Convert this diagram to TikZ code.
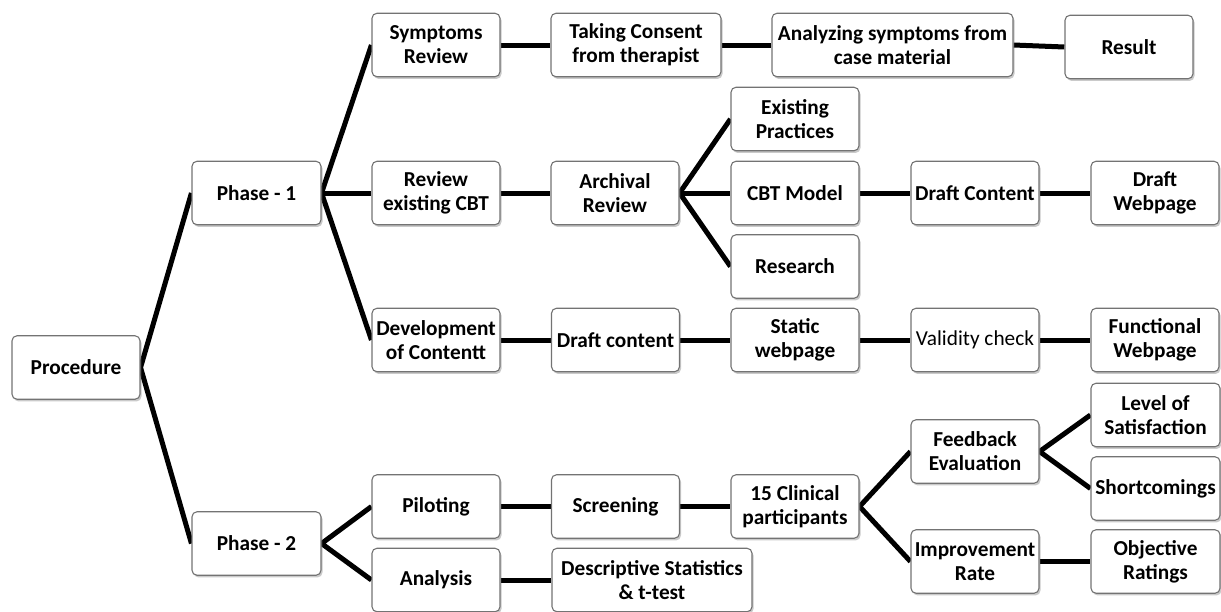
\documentclass[tikz,border=0pt]{standalone}
\usepackage{fontspec}
\setmainfont{Carlito}
\usetikzlibrary{shadows}
\pgfdeclarelayer{bg}
\pgfsetlayers{bg,main}
\begin{document}
\begin{tikzpicture}[x=1pt,y=-1pt,
  box/.style={draw=black!55, line width=1.1pt, rounded corners=5pt, fill=white,
    minimum width=#1, minimum height=63.5pt, inner sep=0pt, align=center,
    font=\fontsize{21.3}{24}\selectfont\bfseries,
    drop shadow={shadow xshift=1.5pt, shadow yshift=-2.2pt, opacity=0.35, fill=black!60}},
  box/.default=128pt,
  link/.style={line width=5pt, line join=miter, black}]
\useasboundingbox (0,0) rectangle (1221,611);

% root and phases
\node[box] (proc) at (76,367.5) {Procedure};
\node[box=129pt] (ph1) at (256.5,193) {Phase - 1};
\node[box=129pt] (ph2) at (256.5,543.5) {Phase - 2};

% phase 1, first branch
\node[box] (sym) at (436,45) {Symptoms\\Review};
\node[box=170pt] (tak) at (636,45) {Taking Consent\\from therapist};
\node[box=241pt] (ana) at (892.5,45) {Analyzing symptoms from\\case material};
\node[box] (res) at (1129,47) {Result};

% phase 1, second branch
\node[box] (rev) at (436,193) {Review\\existing CBT};
\node[box] (arc) at (615,193) {Archival\\Review};
\node[box] (exi) at (795,119) {Existing\\Practices};
\node[box] (cbt) at (795,193) {CBT Model};
\node[box] (rsh) at (795,266.5) {Research};
\node[box] (dcn) at (975,193) {Draft Content};
\node[box] (dwp) at (1155,193) {Draft\\Webpage};

% phase 1, third branch
\node[box] (dev) at (436,340) {Development\\of Contentt};
\node[box] (drc) at (615.5,340) {Draft content};
\node[box] (sta) at (795,340) {Static\\webpage};
\node[box, font=\fontsize{21.3}{24}\selectfont] (val) at (975,340) {Validity check};
\node[box] (fun) at (1155,340) {Functional\\Webpage};

% phase 2
\node[box] (pil) at (436,506.5) {Piloting};
\node[box] (scr) at (615.5,506.5) {Screening};
\node[box] (cli) at (795,506.5) {15 Clinical\\participants};
\node[box] (anl) at (436,580) {Analysis};
\node[box=200pt] (des) at (652,580) {Descriptive Statistics\\\& t-test};
\node[box] (fee) at (975,451.5) {Feedback\\Evaluation};
\node[box] (imp) at (975,561.5) {Improvement\\Rate};
\node[box=129pt] (lev) at (1155.5,415) {Level of\\Satisfaction};
\node[box=129pt] (sho) at (1155.5,488.5) {Shortcomings};
\node[box=129pt] (obj) at (1155.5,561.5) {Objective\\Ratings};

\begin{pgfonlayer}{bg}
  \draw[link] (ph1.west) -- (proc.east) -- (ph2.west);
  \draw[link] (sym.west) -- (ph1.east) -- (dev.west);
  \draw[link] (ph1.east) -- (rev.west);
  \draw[link] (sym) -- (tak);
  \draw[link] (tak) -- (ana);
  \draw[link] (ana.east) -- (res.west);
  \draw[link] (rev) -- (arc);
  \draw[link] (exi.west) -- (arc.east) -- (rsh.west);
  \draw[link] (arc.east) -- (cbt.west);
  \draw[link] (cbt) -- (dcn);
  \draw[link] (dcn) -- (dwp);
  \draw[link] (dev) -- (drc);
  \draw[link] (drc) -- (sta);
  \draw[link] (sta) -- (val);
  \draw[link] (val) -- (fun);
  \draw[link] (pil.west) -- (ph2.east) -- (anl.west);
  \draw[link] (pil) -- (scr);
  \draw[link] (scr) -- (cli);
  \draw[link] (anl.east) -- (des.west);
  \draw[link] (fee.west) -- (cli.east) -- (imp.west);
  \draw[link] (lev.west) -- (fee.east) -- (sho.west);
  \draw[link] (imp) -- (obj);
\end{pgfonlayer}
\end{tikzpicture}
\end{document}
